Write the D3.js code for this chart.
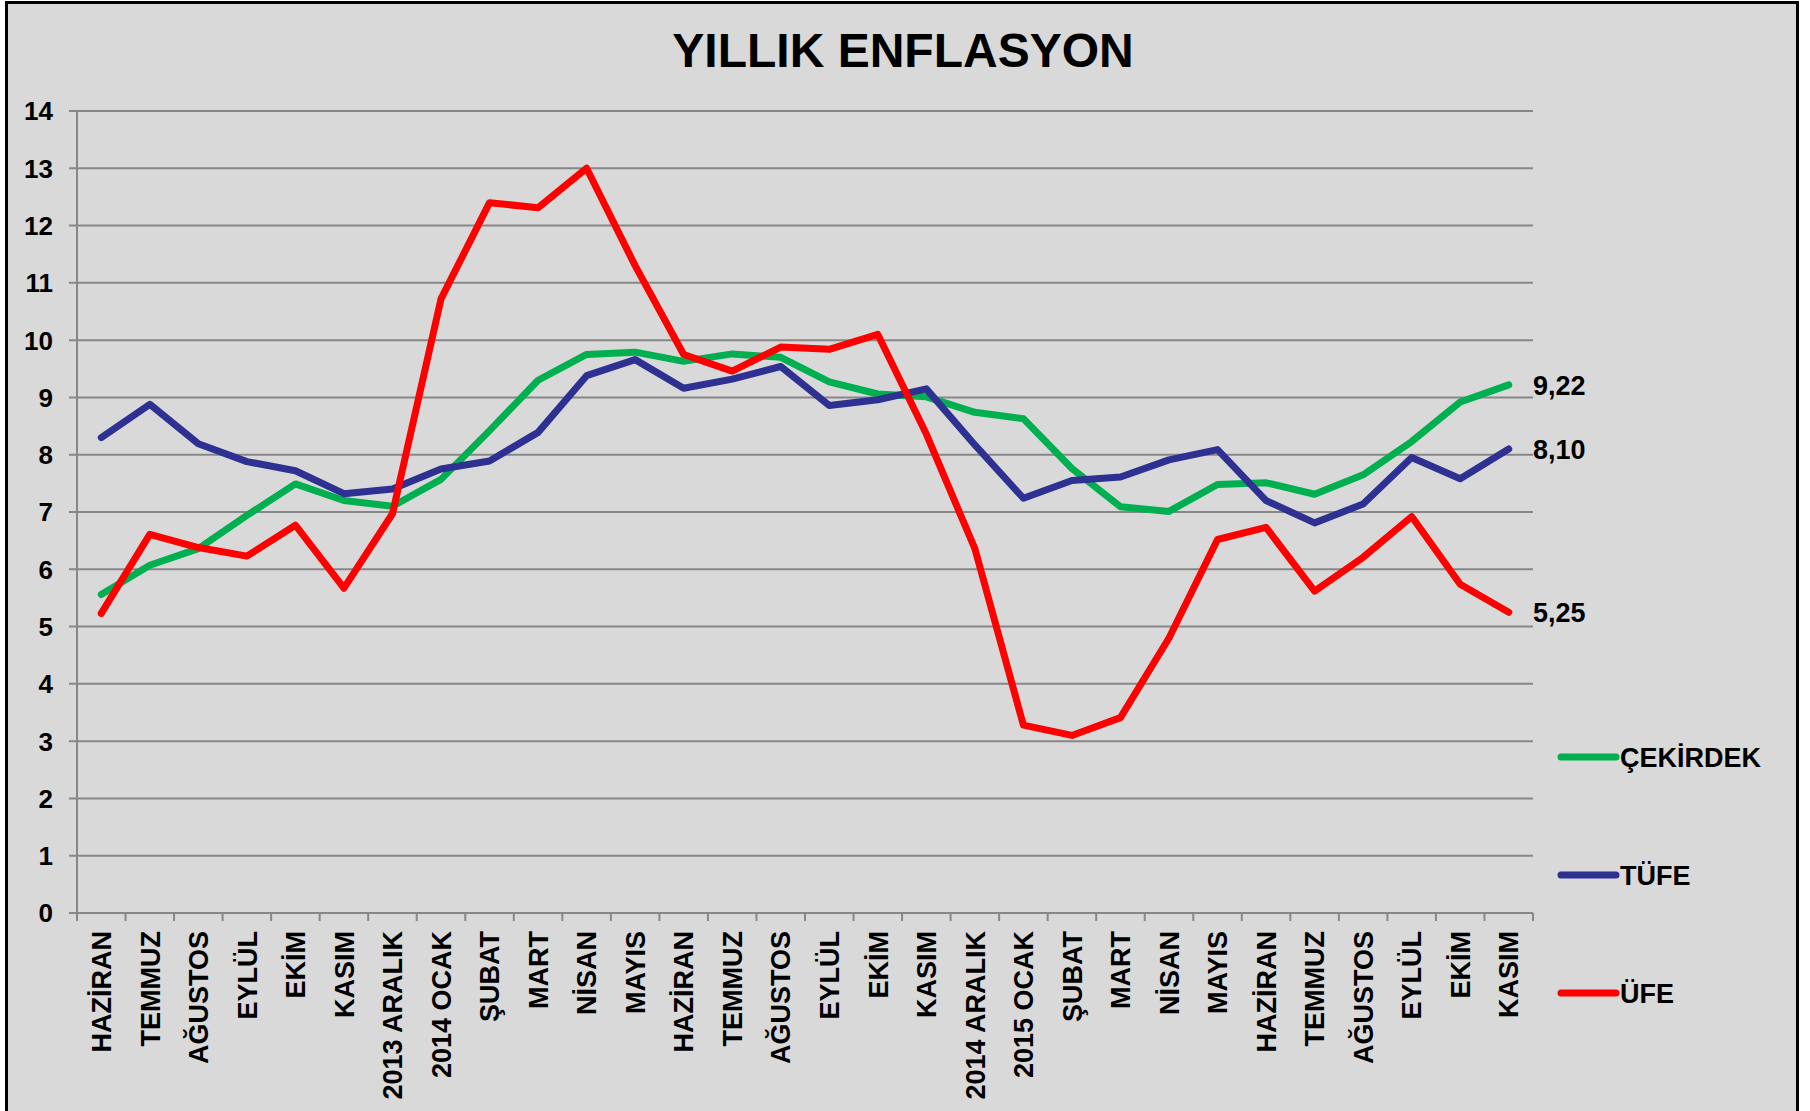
<!DOCTYPE html>
<html>
<head>
<meta charset="utf-8">
<script src="https://cdn.jsdelivr.net/npm/d3@7"></script>
<style>
    body { margin: 0; background: #fff; }
    text { font-family: "Liberation Sans", Arial, sans-serif; font-weight: bold; fill: #000; }
</style>
</head>
<body>
<div id="chart"></div>
<script>
// month labels (x axis)
var months = ["HAZİRAN", "TEMMUZ", "AĞUSTOS", "EYLÜL", "EKİM", "KASIM", "2013 ARALIK", "2014 OCAK",
    "ŞUBAT", "MART", "NİSAN", "MAYIS", "HAZİRAN", "TEMMUZ", "AĞUSTOS", "EYLÜL", "EKİM", "KASIM",
    "2014 ARALIK", "2015 OCAK", "ŞUBAT", "MART", "NİSAN", "MAYIS", "HAZİRAN", "TEMMUZ", "AĞUSTOS",
    "EYLÜL", "EKİM", "KASIM"];

var cekirdek = [5.56, 6.07, 6.36, 6.94, 7.49, 7.20, 7.10, 7.57, 8.42, 9.30, 9.75, 9.79, 9.63, 9.76,
    9.70, 9.27, 9.06, 9.01, 8.74, 8.63, 7.76, 7.09, 7.01, 7.48, 7.51, 7.31, 7.65, 8.23, 8.92, 9.22];

var tufe = [8.30, 8.88, 8.19, 7.88, 7.72, 7.32, 7.40, 7.75, 7.89, 8.39, 9.38, 9.66, 9.16, 9.32,
    9.54, 8.86, 8.96, 9.15, 8.17, 7.24, 7.55, 7.61, 7.91, 8.09, 7.20, 6.81, 7.14, 7.95, 7.58, 8.10];

var ufe = [5.23, 6.61, 6.38, 6.23, 6.77, 5.67, 6.97, 10.72, 12.40, 12.31, 13.00, 11.30, 9.75, 9.46,
    9.88, 9.84, 10.10, 8.36, 6.36, 3.28, 3.10, 3.41, 4.80, 6.52, 6.73, 5.62, 6.21, 6.92, 5.74, 5.25];

var seriesNames = ["ÇEKİRDEK", "TÜFE", "ÜFE"];
var yTicks = d3.range(0, 15);

var series = [
    { name: seriesNames[0], values: cekirdek, color: "#00b050" },
    { name: seriesNames[1], values: tufe, color: "#2e3192" },
    { name: seriesNames[2], values: ufe, color: "#ff0000" }
];

var W = 1810, H = 1111;
var margin = { top: 111, left: 77 },
    width = 1533 - 77,
    height = 913 - 111;

var root = d3.select("#chart")
    .append("svg")
    .attr("width", W)
    .attr("height", H);

// chart area background + border
root.append("rect")
    .attr("x", 6.5).attr("y", 2.5)
    .attr("width", 1791).attr("height", 1200)
    .attr("fill", "#d9d9d9")
    .attr("stroke", "#000")
    .attr("stroke-width", 3);

root.append("text")
    .attr("x", 903)
    .attr("y", 67)
    .attr("text-anchor", "middle")
    .style("font-size", "48px")
    .text("YILLIK ENFLASYON");

var svg = root.append("g")
    .attr("transform", "translate(" + margin.left + "," + margin.top + ")");

var x = d3.scaleBand()
    .domain(d3.range(months.length))
    .range([0, width]);

var y = d3.scaleLinear()
    .domain([0, 14])
    .range([height, 0]);

// gridlines + y ticks
svg.selectAll(".grid")
    .data(yTicks)
    .enter()
    .append("line")
    .attr("x1", -8)
    .attr("x2", width)
    .attr("y1", d => y(d))
    .attr("y2", d => y(d))
    .attr("stroke", "#878787")
    .attr("stroke-width", 2);

svg.selectAll(".ylab")
    .data(yTicks)
    .enter()
    .append("text")
    .attr("x", -24)
    .attr("y", d => y(d))
    .attr("dy", "0.36em")
    .attr("text-anchor", "end")
    .style("font-size", "26px")
    .text(d => d);

// y axis line
svg.append("line")
    .attr("x1", 0).attr("x2", 0)
    .attr("y1", 0).attr("y2", height)
    .attr("stroke", "#878787")
    .attr("stroke-width", 2);

// x axis line and ticks at category boundaries
svg.append("line")
    .attr("x1", 0).attr("x2", width)
    .attr("y1", height).attr("y2", height)
    .attr("stroke", "#878787")
    .attr("stroke-width", 2);

svg.selectAll(".xtick")
    .data(d3.range(months.length + 1))
    .enter()
    .append("line")
    .attr("x1", d => d * x.step())
    .attr("x2", d => d * x.step())
    .attr("y1", height)
    .attr("y2", height + 8)
    .attr("stroke", "#878787")
    .attr("stroke-width", 2);

svg.selectAll(".xlab")
    .data(months)
    .enter()
    .append("text")
    .attr("text-anchor", "end")
    .attr("dy", "0.36em")
    .attr("transform", (d, i) => "translate(" + (x(i) + x.bandwidth() / 2) + "," + (height + 18) + ")rotate(-90)")
    .style("font-size", "27px")
    .text(d => d);

// lines
var line = d3.line()
    .x((d, i) => x(i) + x.bandwidth() / 2)
    .y(d => y(d));

svg.selectAll(".series")
    .data(series)
    .enter()
    .append("path")
    .attr("d", d => line(d.values))
    .attr("fill", "none")
    .attr("stroke", d => d.color)
    .attr("stroke-width", 7)
    .attr("stroke-linejoin", "round")
    .attr("stroke-linecap", "round");

// last value labels
var fmt = d3.format(".2f");
svg.selectAll(".endlab")
    .data(series)
    .enter()
    .append("text")
    .attr("x", width)
    .attr("y", d => y(d.values[d.values.length - 1]))
    .attr("dy", "0.36em")
    .style("font-size", "27px")
    .text(d => fmt(d.values[d.values.length - 1]).replace(".", ","));

// legend
var legend = root.selectAll(".legend")
    .data(series)
    .enter()
    .append("g")
    .attr("transform", (d, i) => "translate(1561," + (757 + i * 118) + ")");

legend.append("line")
    .attr("x1", 0).attr("x2", 55)
    .attr("stroke", d => d.color)
    .attr("stroke-width", 7)
    .attr("stroke-linecap", "round");

legend.append("text")
    .attr("x", 59)
    .attr("dy", "0.36em")
    .style("font-size", "27px")
    .text(d => d.name);
</script>
</body>
</html>
